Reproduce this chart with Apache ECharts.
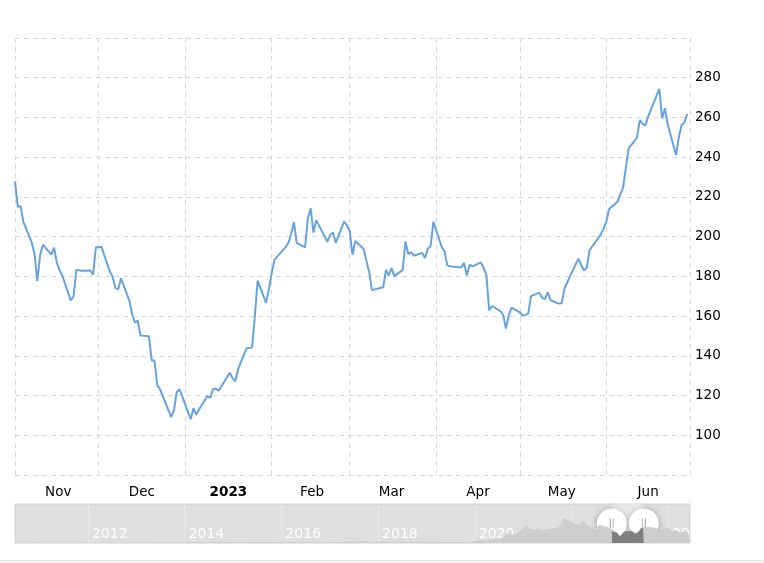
<!DOCTYPE html>
<html><head><meta charset="utf-8">
<script src="https://cdn.jsdelivr.net/npm/echarts@6/dist/echarts.min.js"></script>
<style>html,body{margin:0;padding:0;background:#fff}#c{width:764px;height:563px}</style>
</head><body><div id="c"></div>
<script>
// ---- Main series: daily closes, Nov 2022 - Jun 2023 ----
const tradingDates = [
'2022-11-01','2022-11-02','2022-11-03','2022-11-04','2022-11-07','2022-11-08','2022-11-09','2022-11-10','2022-11-11','2022-11-14','2022-11-15','2022-11-16','2022-11-17','2022-11-18','2022-11-21','2022-11-22','2022-11-23','2022-11-25','2022-11-28','2022-11-29','2022-11-30',
'2022-12-01','2022-12-02','2022-12-05','2022-12-06','2022-12-07','2022-12-08','2022-12-09','2022-12-12','2022-12-13','2022-12-14','2022-12-15','2022-12-16','2022-12-19','2022-12-20','2022-12-21','2022-12-22','2022-12-23','2022-12-27','2022-12-28','2022-12-29','2022-12-30',
'2023-01-03','2023-01-04','2023-01-05','2023-01-06','2023-01-09','2023-01-10','2023-01-11','2023-01-12','2023-01-13','2023-01-17','2023-01-18','2023-01-19','2023-01-20','2023-01-23','2023-01-24','2023-01-25','2023-01-26','2023-01-27','2023-01-30','2023-01-31',
'2023-02-01','2023-02-02','2023-02-03','2023-02-06','2023-02-07','2023-02-08','2023-02-09','2023-02-10','2023-02-13','2023-02-14','2023-02-15','2023-02-16','2023-02-17','2023-02-21','2023-02-22','2023-02-23','2023-02-24','2023-02-27','2023-02-28',
'2023-03-01','2023-03-02','2023-03-03','2023-03-06','2023-03-07','2023-03-08','2023-03-09','2023-03-10','2023-03-13','2023-03-14','2023-03-15','2023-03-16','2023-03-17','2023-03-20','2023-03-21','2023-03-22','2023-03-23','2023-03-24','2023-03-27','2023-03-28','2023-03-29','2023-03-30','2023-03-31',
'2023-04-03','2023-04-04','2023-04-05','2023-04-06','2023-04-10','2023-04-11','2023-04-12','2023-04-13','2023-04-14','2023-04-17','2023-04-18','2023-04-19','2023-04-20','2023-04-21','2023-04-24','2023-04-25','2023-04-26','2023-04-27','2023-04-28',
'2023-05-01','2023-05-02','2023-05-03','2023-05-04','2023-05-05','2023-05-08','2023-05-09','2023-05-10','2023-05-11','2023-05-12','2023-05-15','2023-05-16','2023-05-17','2023-05-18','2023-05-19','2023-05-22','2023-05-23','2023-05-24','2023-05-25','2023-05-26','2023-05-30','2023-05-31',
'2023-06-01','2023-06-02','2023-06-05','2023-06-06','2023-06-07','2023-06-08','2023-06-09','2023-06-12','2023-06-13','2023-06-14','2023-06-15','2023-06-16','2023-06-20','2023-06-21','2023-06-22','2023-06-23','2023-06-26','2023-06-27','2023-06-28','2023-06-29','2023-06-30'
];
const closePrices = [
227.82,214.98,215.31,207.47,197.08,191.30,177.59,190.72,195.97,190.95,194.42,186.92,183.17,180.19,167.87,169.91,183.20,182.86,182.92,180.83,194.70,
194.70,194.86,182.45,179.82,174.04,173.44,179.05,167.82,160.95,156.80,157.67,150.23,149.87,137.80,137.57,125.35,123.15,109.10,112.71,121.82,123.18,
108.10,113.64,110.34,113.06,119.77,118.85,123.22,123.56,122.40,131.49,128.78,127.17,133.42,143.75,143.89,144.43,160.27,177.90,166.66,173.22,
181.41,188.27,189.98,194.76,196.81,201.29,207.32,196.89,194.64,209.25,214.24,202.04,208.31,197.37,200.86,202.07,196.88,207.63,205.71,
202.77,190.90,197.79,193.81,187.71,182.00,172.92,173.44,174.48,183.26,180.45,184.13,180.13,183.25,197.58,191.15,192.22,190.41,191.81,189.19,193.88,195.28,207.46,
194.77,192.58,185.52,185.06,184.51,186.79,180.54,185.90,185.00,187.04,184.31,180.59,162.99,165.08,162.55,160.67,153.75,160.19,164.31,
161.83,160.31,160.61,161.20,170.06,171.79,169.15,168.54,172.08,167.98,166.35,166.52,173.86,176.89,180.14,188.87,185.77,182.90,184.47,193.17,201.16,203.93,
207.52,213.97,217.61,221.31,224.57,234.86,244.40,249.83,258.71,256.79,255.90,260.54,274.45,259.46,264.61,256.60,241.05,250.21,256.24,257.50,261.77
];

// ---- Axis ticks / labels ----
const viewStart = '2022-11-01';
const viewEnd = '2023-07-01';
const monthStarts = ['2022-11-01','2022-12-01','2023-01-01','2023-02-01','2023-03-01','2023-04-01','2023-05-01','2023-06-01','2023-07-01'];
const monthLabelDates = ['2022-11-16T12:00','2022-12-16T12:00','2023-01-16T12:00','2023-02-15T12:00','2023-03-16T00:00','2023-04-16T00:00','2023-05-16T00:00','2023-06-16T00:00'];
const monthLabelNames = ['Nov','Dec','2023','Feb','Mar','Apr','May','Jun'];
const yMin = 80, yMax = 300, yStep = 20;

// ---- Navigator (full history, approx. monthly closes) ----
const navStart = '2010-06-29';
const navEnd = '2024-06-14';
const navYearTicks = ['2012-01-01','2014-01-01','2016-01-01','2018-01-01','2020-01-01','2022-01-01','2024-01-01'];
const navDates = [
'2010-06-29','2010-07-30','2010-08-31','2010-09-30','2010-10-29','2010-11-30','2010-12-31',
'2011-01-31','2011-02-28','2011-03-31','2011-04-29','2011-05-31','2011-06-30','2011-07-29','2011-08-31','2011-09-30','2011-10-31','2011-11-30','2011-12-30',
'2012-01-31','2012-02-29','2012-03-30','2012-04-30','2012-05-31','2012-06-29','2012-07-31','2012-08-31','2012-09-28','2012-10-31','2012-11-30','2012-12-31',
'2013-01-31','2013-02-28','2013-03-28','2013-04-30','2013-05-31','2013-06-28','2013-07-31','2013-08-30','2013-09-30','2013-10-31','2013-11-29','2013-12-31',
'2014-01-31','2014-02-28','2014-03-31','2014-04-30','2014-05-30','2014-06-30','2014-07-31','2014-08-29','2014-09-30','2014-10-31','2014-11-28','2014-12-31',
'2015-01-30','2015-02-27','2015-03-31','2015-04-30','2015-05-29','2015-06-30','2015-07-31','2015-08-31','2015-09-30','2015-10-30','2015-11-30','2015-12-31',
'2016-01-29','2016-02-29','2016-03-31','2016-04-29','2016-05-31','2016-06-30','2016-07-29','2016-08-31','2016-09-30','2016-10-31','2016-11-30','2016-12-30',
'2017-01-31','2017-02-28','2017-03-31','2017-04-28','2017-05-31','2017-06-30','2017-07-31','2017-08-31','2017-09-29','2017-10-31','2017-11-30','2017-12-29',
'2018-01-31','2018-02-28','2018-03-29','2018-04-30','2018-05-31','2018-06-29','2018-07-31','2018-08-31','2018-09-28','2018-10-31','2018-11-30','2018-12-31',
'2019-01-31','2019-02-28','2019-03-29','2019-04-30','2019-05-31','2019-06-28','2019-07-31','2019-08-30','2019-09-30','2019-10-31','2019-11-29','2019-12-31',
'2020-01-31','2020-02-28','2020-03-31','2020-04-30','2020-05-29','2020-06-30','2020-07-31','2020-08-31','2020-09-30','2020-10-30','2020-11-30','2020-12-31',
'2021-01-26','2021-02-26','2021-03-31','2021-04-30','2021-05-28','2021-06-30','2021-07-30','2021-08-31','2021-09-30','2021-10-29','2021-11-04','2021-11-30','2021-12-31',
'2022-01-31','2022-02-28','2022-03-31','2022-04-04','2022-04-29','2022-05-31','2022-06-30','2022-07-29','2022-08-31','2022-09-30','2022-10-31','2022-11-30','2022-12-30',
'2023-01-31','2023-02-28','2023-03-31','2023-04-28','2023-05-31','2023-06-30','2023-07-31','2023-08-31','2023-09-29','2023-10-31','2023-11-30','2023-12-29',
'2024-01-31','2024-02-29','2024-03-28','2024-04-30','2024-05-31','2024-06-14'
];
const navPrices = [
1.59,1.33,1.30,1.36,1.45,2.33,1.78,
1.60,1.55,1.78,1.84,2.03,1.94,1.86,1.64,1.63,1.95,2.17,1.90,
1.95,2.22,2.48,2.21,1.99,2.09,1.83,1.91,1.95,1.91,2.26,2.26,
2.50,2.33,2.53,3.60,6.23,7.17,8.95,11.27,12.89,10.76,8.47,10.03,
12.12,16.31,13.90,13.87,13.82,16.00,14.89,17.97,16.18,16.11,16.30,14.83,
13.57,13.62,12.58,15.76,16.78,17.88,17.73,16.67,16.56,13.76,15.32,16.00,
12.75,12.79,15.32,16.03,13.91,14.15,15.02,14.12,13.60,13.27,12.60,14.25,
16.75,16.63,18.55,20.94,22.74,24.11,21.56,23.79,22.74,22.10,20.59,20.76,
23.62,22.87,17.74,19.59,18.98,22.86,19.88,20.11,17.65,22.49,23.36,22.19,
20.47,21.33,18.66,15.91,12.34,14.90,16.11,15.04,16.06,20.99,21.99,27.89,
43.37,44.53,34.93,52.13,55.67,71.99,95.38,166.11,143.00,129.35,189.20,235.22,
293.00,225.17,222.64,236.48,208.41,226.57,229.07,245.24,258.49,371.33,409.97,381.59,352.26,
312.24,290.14,359.20,381.80,290.25,252.75,224.47,297.15,275.61,265.25,227.54,194.70,123.18,
173.22,205.71,207.46,164.31,203.93,261.77,267.43,258.08,250.22,200.84,240.08,248.48,
187.29,201.88,175.79,183.28,178.08,178.01
];

const toTime = s => new Date(s.length === 10 ? s + 'T00:00' : s).getTime();
const mainData = tradingDates.map((d, i) => [toTime(d), closePrices[i]]);
const navData = navDates.map((d, i) => [toTime(d), navPrices[i]]);
const monthStartTimes = monthStarts.map(toTime);
const monthLabelTimes = monthLabelDates.map(toTime);
const navYearTimes = navYearTicks.map(toTime);

const FONT = '"DejaVu Sans", Verdana, sans-serif';
const chart = echarts.init(document.getElementById('c'), null, { renderer: 'canvas' });

chart.setOption({
  animation: false,
  backgroundColor: '#ffffff',
  textStyle: { fontFamily: FONT },
  grid: [
    { left: 15, right: 74, top: 38, bottom: 88, containLabel: false },
    { left: 15, right: 74, top: 504, height: 39, show: true, backgroundColor: '#dfdfdf', borderColor: '#d3d3d3', borderWidth: 1 }
  ],
  xAxis: [
    {
      type: 'value', gridIndex: 0, min: toTime(viewStart), max: toTime(viewEnd),
      axisLine: { show: false },
      axisTick: { show: false, customValues: monthStartTimes },
      splitLine: { show: true, lineStyle: { color: '#d9d9d9', type: [5, 4], width: 1 } },
      axisLabel: {
        customValues: monthLabelTimes, margin: 10, color: '#000', fontSize: 13.5, fontFamily: FONT,
        hideOverlap: false, showMinLabel: true, showMaxLabel: true,
        formatter: function (v) {
          let best = 0, bd = Infinity;
          monthLabelTimes.forEach((t, i) => { const d = Math.abs(t - v); if (d < bd) { bd = d; best = i; } });
          const name = monthLabelNames[best];
          return best === 2 ? '{b|' + name + '}' : '{a|' + name + '}';
        },
        rich: {
          a: { fontSize: 13.5, color: '#000', fontFamily: FONT },
          b: { fontSize: 13.5, color: '#000', fontWeight: 'bold', fontFamily: FONT }
        }
      }
    },
    {
      type: 'value', gridIndex: 1, min: toTime(navStart), max: toTime(navEnd),
      axisLine: { show: false },
      axisTick: { show: true, inside: true, length: 38, customValues: navYearTimes, lineStyle: { color: '#e7e7e7', width: 1 } },
      splitLine: { show: false },
      axisLabel: {
        inside: true, customValues: navYearTimes, margin: 2, color: '#ffffff', fontSize: 14, fontFamily: FONT,
        align: 'left', padding: [0, 0, 0, 4], hideOverlap: false, showMinLabel: true, showMaxLabel: true,
        formatter: function (v) { return String(new Date(v).getFullYear()); }
      }
    }
  ],
  yAxis: [
    {
      type: 'value', gridIndex: 0, position: 'right', min: yMin, max: yMax, interval: yStep,
      axisLine: { show: false }, axisTick: { show: false },
      splitLine: { show: true, lineStyle: { color: '#d9d9d9', type: [5, 4], width: 1 } },
      axisLabel: { margin: 5, color: '#000', fontSize: 13.5, fontFamily: FONT, padding: [3, 0, 0, 0], showMinLabel: false, showMaxLabel: false }
    },
    {
      type: 'value', gridIndex: 1, min: 0, max: 640, show: false
    }
  ],
  series: [
    {
      type: 'line', xAxisIndex: 0, yAxisIndex: 0, data: mainData, showSymbol: false, symbol: 'none',
      lineStyle: { color: '#67a3dc', width: 2 }, silent: true, z: 5
    },
    {
      type: 'line', xAxisIndex: 1, yAxisIndex: 1, data: navData, showSymbol: false, symbol: 'none',
      lineStyle: { width: 0, color: '#cdcdcd' }, areaStyle: { color: '#cdcdcd', opacity: 1 }, silent: true, z: 2,
      markArea: { silent: true, itemStyle: { color: 'rgba(255,255,255,0.3)' }, data: [[{ xAxis: toTime(viewStart) }, { xAxis: toTime(viewEnd) }]] }
    },
    {
      type: 'line', xAxisIndex: 1, yAxisIndex: 1, data: mainData, showSymbol: false, symbol: 'none',
      lineStyle: { width: 0, color: '#7e7e7e' }, areaStyle: { color: '#7e7e7e', opacity: 1 }, silent: true, z: 3
    }
  ]
});

// handles of the navigator, placed through the navigator's scale
const hx1 = chart.convertToPixel({ xAxisIndex: 1 }, toTime(viewStart));
const hx2 = chart.convertToPixel({ xAxisIndex: 1 }, toTime(viewEnd));
const hy = 523.5;
function handle(x) {
  return {
    type: 'group', x: x, y: hy, z: 100,
    children: [
      { type: 'circle', shape: { cx: 0, cy: 0, r: 15 }, style: { fill: '#ffffff', shadowBlur: 6, shadowColor: 'rgba(0,0,0,0.35)', shadowOffsetY: 1 } },
      { type: 'line', shape: { x1: -1.5, y1: -5, x2: -1.5, y2: 5 }, style: { stroke: '#9a9a9a', lineWidth: 1 } },
      { type: 'line', shape: { x1: 1.5, y1: -5, x2: 1.5, y2: 5 }, style: { stroke: '#9a9a9a', lineWidth: 1 } }
    ]
  };
}
chart.setOption({
  graphic: [
    handle(hx1), handle(hx2),
    { type: 'line', shape: { x1: 0, y1: 561, x2: 764, y2: 561 }, style: { stroke: '#e2e2e2', lineWidth: 1.5 }, z: 100 }
  ]
});
</script>
</body></html>
